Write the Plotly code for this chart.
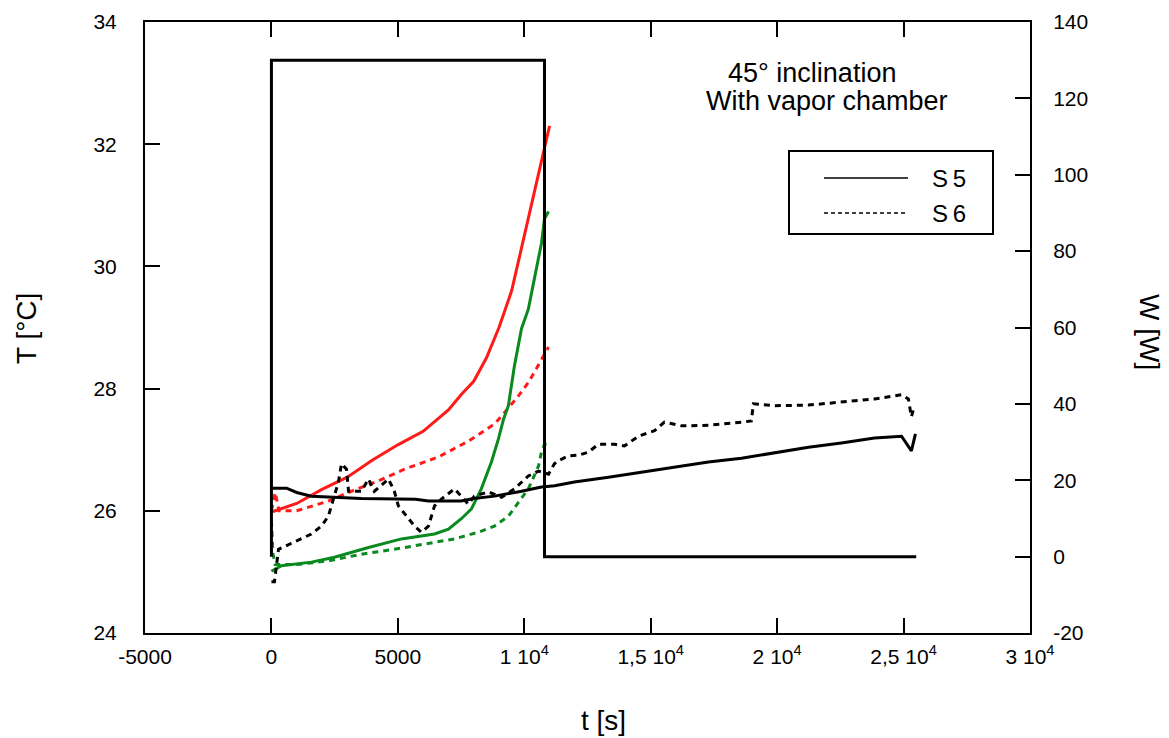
import plotly.graph_objects as go

# ---------------- data ----------------
# Heating power (right axis, W)
power_t = [0, 0, 10800, 10800, 25500]
power_w = [0, 130, 130, 0, 0]

# Red, solid
red_s_t = [0, 1000, 2000, 3000, 4000, 5000, 6000, 7000, 7500, 8000, 8500, 9000, 9500, 10000, 10500, 11000]
red_s_T = [25.98, 26.12, 26.35, 26.55, 26.83, 27.08, 27.3, 27.65, 27.9, 28.12, 28.5, 29.0, 29.6, 30.5, 31.4, 32.3]

# Red, dashed
red_d_t = [0, 150, 300, 1000, 2250, 3160, 4230, 5260, 6600, 7790, 8820, 9100, 9770, 10160, 10400, 10680, 10960]
red_d_T = [26.0, 26.3, 26.0, 26.0, 26.16, 26.32, 26.49, 26.68, 26.88, 27.14, 27.42, 27.55, 27.88, 28.1, 28.27, 28.48, 28.68]

# Green, solid
grn_s_t = [0, 400, 1580, 2490, 3840, 5140, 6450, 7000, 7510, 7910, 8300, 8700, 8980, 9180, 9370, 9610, 9890, 10160, 10400, 10680, 10800, 10960]
grn_s_T = [25.01, 25.1, 25.16, 25.24, 25.4, 25.54, 25.62, 25.7, 25.87, 26.03, 26.36, 26.8, 27.18, 27.5, 27.72, 28.37, 28.98, 29.3, 29.8, 30.38, 30.78, 30.9]

# Green, dashed
grn_d_t = [0, 60, 150, 1000, 2250, 3560, 4860, 6210, 7240, 8190, 8820, 9370, 9770, 10160, 10560, 10680, 10800, 10960]
grn_d_T = [25.85, 25.3, 25.12, 25.12, 25.18, 25.29, 25.37, 25.46, 25.54, 25.65, 25.75, 25.91, 26.14, 26.36, 26.73, 26.96, 27.09, 27.09]

# Black, solid (S5)
blk_s_t = [0, 600, 1000, 1580, 3560, 5700, 6210, 7500, 8000, 8820, 9890, 10680, 11200, 11980, 13330, 14630, 15940, 17280, 18590, 19890, 21240, 22540, 23850, 24920, 25310, 25470]
blk_s_T = [26.37, 26.37, 26.3, 26.24, 26.2, 26.19, 26.16, 26.16, 26.2, 26.24, 26.32, 26.39, 26.41, 26.47, 26.55, 26.63, 26.72, 26.8, 26.86, 26.95, 27.04, 27.11, 27.19, 27.22, 26.98, 27.26]

# Black, dashed (S6)
blk_d_t = [0, 120, 280, 910, 1580, 1980, 2250, 2450, 2650, 2770, 2970, 3050, 3560, 3840, 4070, 4630, 4860, 5020, 5420, 5660, 5930, 6210, 6450, 6720, 7240, 7510, 7790, 8030, 8580, 9100, 9610, 10160, 10560, 10960, 11190, 11350, 11750, 12140, 12540, 12930, 13570, 13960, 14510, 15150, 15540, 16220, 17280, 18590, 18980, 19060, 19890, 21240, 22540, 23850, 24640, 24920, 25190, 25310, 25430]
blk_d_T = [24.84, 24.84, 25.37, 25.49, 25.62, 25.75, 25.91, 26.19, 26.47, 26.77, 26.68, 26.32, 26.32, 26.52, 26.32, 26.52, 26.32, 26.08, 25.87, 25.75, 25.65, 25.75, 26.08, 26.19, 26.36, 26.24, 26.11, 26.24, 26.31, 26.22, 26.36, 26.57, 26.65, 26.6, 26.77, 26.82, 26.9, 26.91, 26.96, 27.09, 27.09, 27.06, 27.22, 27.31, 27.45, 27.39, 27.4, 27.45, 27.47, 27.75, 27.72, 27.73, 27.78, 27.83, 27.88, 27.9, 27.83, 27.54, 27.72]

x_tickvals = [-5000, 0, 5000, 10000, 15000, 20000, 25000, 30000]
x_ticktext = ["-5000", "0", "5000", "1 10<sup>4</sup>", "1,5 10<sup>4</sup>",
              "2 10<sup>4</sup>", "2,5 10<sup>4</sup>", "3 10<sup>4</sup>"]
y_tickvals = [24, 26, 28, 30, 32, 34]
y_ticktext = ["24", "26", "28", "30", "32", "34"]
y2_tickvals = [-20, 0, 20, 40, 60, 80, 100, 120, 140]
y2_ticktext = ["-20", "0", "20", "40", "60", "80", "100", "120", "140"]

legend_labels = ["S\u20095", "S\u20096"]

# ---------------- figure ----------------
FONT = "Liberation Sans, Arial, Helvetica, sans-serif"
DASH = "6px,5px"
RED = "#ff1a1a"
GREEN = "#0a8a1e"

fig = go.Figure()

def add(t, T, color, dash, width=3):
    fig.add_trace(go.Scatter(x=t, y=T, mode="lines",
                             line=dict(color=color, width=width, dash=dash),
                             showlegend=False, hoverinfo="skip"))

add(red_s_t, red_s_T, RED, "solid")
add(red_d_t, red_d_T, RED, DASH)
add(grn_s_t, grn_s_T, GREEN, "solid")
add(grn_d_t, grn_d_T, GREEN, DASH)
add(blk_s_t, blk_s_T, "black", "solid", 3)
add(blk_d_t, blk_d_T, "black", DASH)

fig.add_trace(go.Scatter(x=power_t, y=power_w, mode="lines", yaxis="y2",
                         line=dict(color="black", width=3),
                         showlegend=False, hoverinfo="skip"))

axis_common = dict(showgrid=False, zeroline=False, showline=True, linecolor="black",
                   linewidth=2, ticks="inside", ticklen=15, tickwidth=2, automargin=False,
                   tickcolor="black", tickfont=dict(family=FONT, size=21, color="black"))

# page body has an 8px margin -> figure is 8px smaller, margins shifted
W_FIG, H_FIG = 1161, 730
fig.update_layout(
    width=W_FIG, height=H_FIG,
    margin=dict(l=137, r=139, t=14, b=105, autoexpand=False),
    paper_bgcolor="white", plot_bgcolor="white",
    showlegend=False,
    xaxis=dict(range=[-5000, 30000], tickmode="array", tickvals=x_tickvals,
               ticktext=x_ticktext, mirror="ticks", ticklabelstandoff=4, **axis_common),
    yaxis=dict(range=[24, 34], tickmode="array", tickvals=y_tickvals, ticktext=y_ticktext,
               ticklabelstandoff=22, **axis_common),
    yaxis2=dict(range=[-20, 140], tickmode="array", tickvals=y2_tickvals, ticktext=y2_ticktext,
                overlaying="y", side="right", ticklabelstandoff=17, **axis_common),
)

# helpers: reference-screenshot pixels -> paper coordinates
def px_x(px):
    return (px - 145) / 885.0

def px_y(py):
    return (633 - py) / 611.0

ann = []
ann.append(dict(text="T [°C]", x=px_x(26), y=px_y(329), textangle=-90, size=28))
ann.append(dict(text="W [W]", x=px_x(1150), y=px_y(332), textangle=90, size=28))
ann.append(dict(text="t [s]", x=px_x(603), y=px_y(720), textangle=0, size=28))
ann.append(dict(text="45° inclination", x=px_x(812), y=px_y(73), textangle=0, size=27))
ann.append(dict(text="With vapor chamber", x=px_x(827), y=px_y(101), textangle=0, size=27))
for a in ann:
    fig.add_annotation(text=a["text"], x=a["x"], y=a["y"], xref="paper", yref="paper",
                       xanchor="center", yanchor="middle", showarrow=False,
                       textangle=a["textangle"],
                       font=dict(family=FONT, size=a["size"], color="black"))

# manual legend box
fig.add_shape(type="rect", xref="paper", yref="paper",
              x0=px_x(789), x1=px_x(993), y0=px_y(234), y1=px_y(151),
              line=dict(color="black", width=2), fillcolor="white", layer="above")
for label, dash, py in [(legend_labels[0], "solid", 178), (legend_labels[1], "4px,3px", 213)]:
    fig.add_shape(type="line", xref="paper", yref="paper",
                  x0=px_x(824), x1=px_x(908), y0=px_y(py), y1=px_y(py),
                  line=dict(color="black", width=1.6, dash=dash), layer="above")
    fig.add_annotation(text=label, x=px_x(930), y=px_y(py), xref="paper", yref="paper",
                       xanchor="left", yanchor="middle", showarrow=False,
                       font=dict(family=FONT, size=24, color="black"))

fig.write_html("out.html")
